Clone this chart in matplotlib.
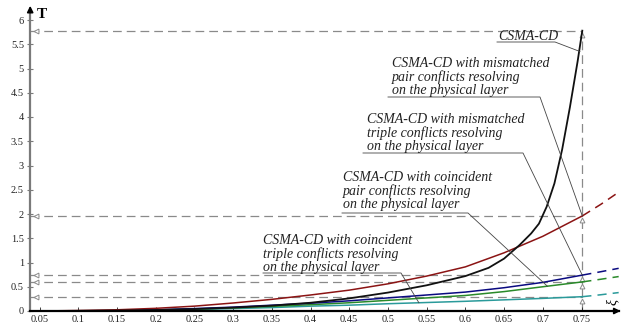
import matplotlib.pyplot as plt
import numpy as np

# (xi -> T)
xi = [0.05, 0.1, 0.15, 0.2, 0.25, 0.3, 0.35, 0.4, 0.45, 0.5, 0.55, 0.6, 0.65, 0.7, 0.751]
t_red = [0.0, 0.01, 0.025, 0.055, 0.10, 0.165, 0.24, 0.33, 0.43, 0.56, 0.72, 0.91, 1.2, 1.54, 1.96]
t_blue = [0.0, 0.003, 0.01, 0.025, 0.05, 0.08, 0.12, 0.16, 0.21, 0.27, 0.33, 0.39, 0.48, 0.59, 0.74]
t_green = [0.0, 0.002, 0.008, 0.02, 0.04, 0.065, 0.095, 0.13, 0.17, 0.22, 0.27, 0.32, 0.40, 0.50, 0.60]
t_teal = [0.0, 0.002, 0.006, 0.015, 0.03, 0.05, 0.07, 0.10, 0.12, 0.15, 0.175, 0.20, 0.23, 0.26, 0.295]

xi_black = [0.05, 0.1, 0.15, 0.2, 0.25, 0.3, 0.35, 0.4, 0.45, 0.5, 0.55, 0.6, 0.63, 0.65,
            0.67, 0.685, 0.695, 0.705, 0.715, 0.725, 0.735, 0.745, 0.751]
t_black = [0.0, 0.003, 0.008, 0.02, 0.04, 0.07, 0.11, 0.17, 0.26, 0.38, 0.53, 0.72, 0.89, 1.08,
           1.36, 1.6, 1.8, 2.15, 2.63, 3.33, 4.2, 5.15, 5.78]

# dashed continuation past xi_max
xi_ext = [0.751, 0.775, 0.798]
ext_red = [1.96, 2.2, 2.45]
ext_blue = [0.74, 0.81, 0.88]
ext_green = [0.60, 0.655, 0.71]
ext_teal = [0.295, 0.335, 0.38]

xticks = [0.05, 0.1, 0.15, 0.2, 0.25, 0.3, 0.35, 0.4, 0.45, 0.5, 0.55, 0.6, 0.65, 0.7, 0.75]
yticks = [0, 0.5, 1, 1.5, 2, 2.5, 3, 3.5, 4, 4.5, 5, 5.5, 6]
levels = [t_black[-1], t_red[-1], t_blue[-1], t_green[-1], t_teal[-1]]

c_black, c_red, c_blue, c_green, c_teal = "#111111", "#8b1414", "#0a0a80", "#2a8a2a", "#2a9a9a"
grey = "#8a8a8a"

plt.rcParams['font.family'] = ['Liberation Serif', 'DejaVu Serif']


def to_data(px, py):
    # pixel position in the picture -> data coords
    return 0.05 + (px - 39.5) / 774.3, (311 - py) / 48.5


fig = plt.figure(figsize=(6.24, 3.23), dpi=100)
x0, _ = to_data(30.2, 0)
x1, _ = to_data(618.7, 0)
ax = fig.add_axes([30.2 / 624, 12 / 323, (618.7 - 30.2) / 624, 6.2 * 48.5 / 323])
ax.set_xlim(x0, x1)
ax.set_ylim(0, 6.2)

xmax = xi[-1]
# guide lines
for lv in levels:
    ax.plot([x0, xmax], [lv, lv], color=grey, lw=0.9, dashes=(7, 4), zorder=1)
    ax.plot([to_data(36, 0)[0]], [lv], marker='<', ms=3.5, mfc='white', mec=grey, mew=0.7, zorder=2)
    ax.plot([xmax], [lv - 0.09], marker='^', ms=3.5, mfc='white', mec=grey, mew=0.7, zorder=2)
ax.plot([xmax, xmax], [0, levels[0]], color=grey, lw=0.9, dashes=(7, 4), zorder=1)

ax.plot(xi, t_teal, color=c_teal, lw=1.1)
ax.plot(xi, t_green, color=c_green, lw=1.1)
ax.plot(xi, t_blue, color=c_blue, lw=1.1)
ax.plot(xi, t_red, color=c_red, lw=1.1)
ax.plot(xi_black, t_black, color=c_black, lw=1.3)
for yy, cc in [(ext_red, c_red), (ext_blue, c_blue), (ext_green, c_green), (ext_teal, c_teal)]:
    ax.plot(xi_ext, yy, color=cc, lw=1.1, dashes=(6, 4), clip_on=False)

# annotations
notes = [
    ("CSMA-CD", 498, 36, 497, 555, 42, (0.748, 5.35)),
    ("CSMA-CD with mismatched\npair conflicts resolving\non the physical layer",
     392, 77, 388, 540, 97, (xmax, t_red[-1])),
    ("CSMA-CD with mismatched\ntriple conflicts resolving\non the physical layer",
     367, 133, 363, 523, 153, (xmax, t_blue[-1])),
    ("CSMA-CD with coincident\npair conflicts resolving\non the physical layer",
     343, 191, 342, 468, 213, (0.706, 0.51)),
    ("CSMA-CD with coincident\ntriple conflicts resolving\non the physical layer",
     263, 254, 263, 401, 273, (0.54, 0.17)),
]
for txt, tx, ty, ux0, ux1, uy, tip in notes:
    ax.text(*to_data(tx, ty), txt, style='italic', fontsize=10, color="#222222",
            ha='left', va='center', linespacing=1.05, zorder=4)
    a = to_data(ux0, uy)
    b = to_data(ux1, uy)
    ax.plot([a[0], b[0], tip[0]], [a[1], b[1], tip[1]], color="#444444", lw=0.6, zorder=3)

# axes look
for s in ['top', 'right']:
    ax.spines[s].set_visible(False)
ax.spines['left'].set_color("#7a7a7a")
ax.spines['left'].set_linewidth(1.6)
ax.spines['bottom'].set_color("black")
ax.spines['bottom'].set_linewidth(1.6)
ax.set_xticks(xticks)
ax.set_xticklabels([f"{v:g}" for v in xticks])
ax.set_yticks(yticks)
ax.set_yticklabels([f"{v:g}" for v in yticks])
ax.tick_params(axis='x', direction='in', length=3, width=0.6, labelsize=7.5, pad=3, colors="#222222")
ax.tick_params(axis='y', direction='inout', length=5, width=0.8, labelsize=7.5, pad=2,
               color="#7a7a7a", labelcolor="#222222")

# axis arrows
ax.annotate("", xy=(x1 + 0.006, 0), xytext=(x1 - 0.005, 0),
            arrowprops=dict(arrowstyle='-|>', color='black', lw=1.2, mutation_scale=9),
            annotation_clip=False)
ax.annotate("", xy=(x0, 6.35), xytext=(x0, 6.1),
            arrowprops=dict(arrowstyle='-|>', color='black', lw=1.2, mutation_scale=9),
            annotation_clip=False)
ax.text(*to_data(37, 14), "T", fontsize=11, fontweight='bold', ha='left', va='center', clip_on=False)
ax.text(*to_data(612, 302), "ξ", fontsize=10, style='italic', rotation=90, ha='center', va='center',
        clip_on=False)

fig.savefig("out.png", dpi=100)
